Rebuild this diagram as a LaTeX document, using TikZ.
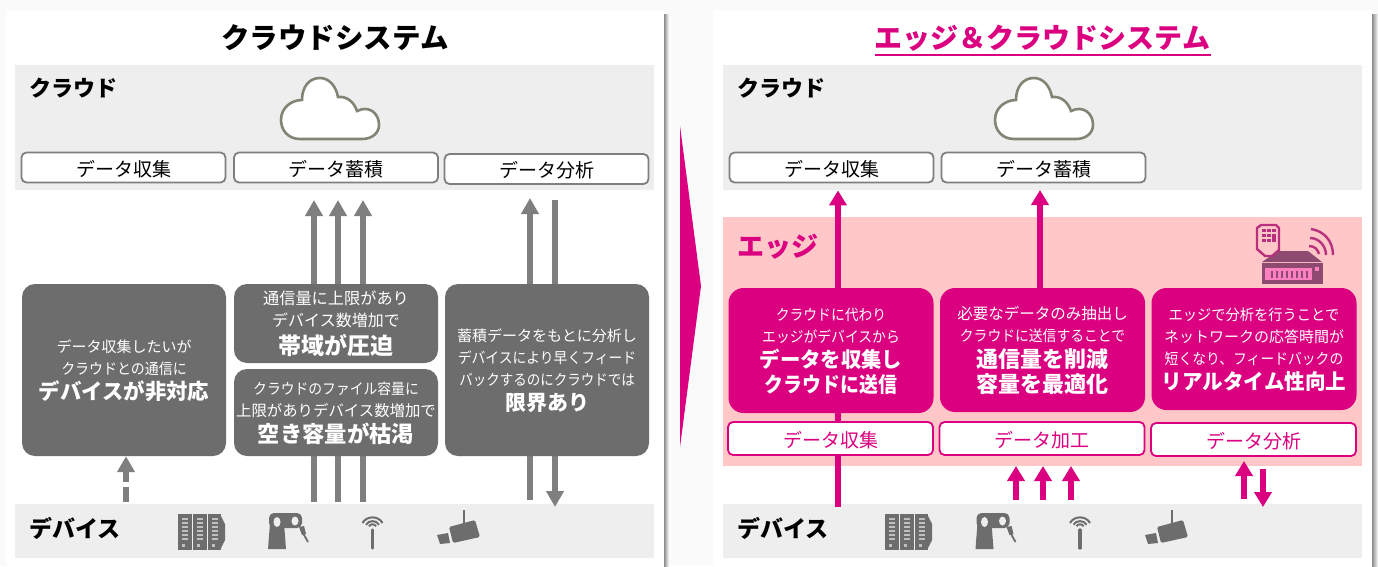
\documentclass[tikz,border=0pt]{standalone}
\usepackage{fontspec}
\setmainfont{Noto Sans CJK JP}
\usetikzlibrary{arrows.meta,calc}
\definecolor{mag}{HTML}{DA0080}
\definecolor{dk}{HTML}{6D6D6D}
\definecolor{arr}{HTML}{7F7F7F}
\definecolor{band}{HTML}{EEEEEE}
\definecolor{edgeb}{HTML}{FFC7C7}
\newcommand\bodyblock[1]{\vbox{\offinterlineskip\vskip 4pt\halign{\hfil##\hfil\cr #1\crcr}}}
% \rl[stretch]{size}{text}  regular line; \bl[stretch]{size}{text} bold line
\newcommand\rl[3][1]{\fontsize{#2}{#2}\selectfont\addfontfeature{FakeStretch=#1}\vrule height 15pt depth 7pt width 0pt #3}
\newcommand\bl[3][1]{\fontsize{#2}{#2}\selectfont\bfseries\addfontfeature{FakeStretch=#1}\vrule height 18pt depth 7pt width 0pt #3}
\pgfdeclarelayer{bg}\pgfdeclarelayer{mid}\pgfsetlayers{bg,mid,main}
\tikzset{
  x=1pt,y=-1pt,
  bandbox/.style={fill=band,draw=none,minimum height=#1,inner sep=0pt,anchor=north west},
  labeltxt/.style={font=\fontsize{22}{26}\selectfont\bfseries,text=black,anchor=west,inner sep=0pt},
  titletxt/.style={font=\fontsize{28.5}{34}\selectfont\bfseries,inner sep=0pt},
  btn/.style={draw=#1,fill=white,rounded corners=5pt,line width=1.8pt,minimum width=204pt,minimum height=30pt,inner sep=0pt,text height=18.5pt,text depth=1pt,font=\fontsize{19}{22}\selectfont},
  dkbox/.style={fill=dk,rounded corners=13pt,text=white,inner sep=0pt,minimum width=204pt},
  mgbox/.style={fill=mag,rounded corners=15pt,text=white,inner sep=0pt,minimum width=205pt},
  garrow/.style={draw=arr,line width=5.2pt,-{Triangle[width=17pt,length=16pt]}},
  gline/.style={draw=arr,line width=5.2pt},
  marrow/.style={draw=mag,line width=6pt,-{Triangle[width=17pt,length=15pt]}},
  cloudshape/.pic={
    \draw[draw=black!45!band!90!olive,fill=white,line width=2.6pt]
      (19,61) .. controls (7,61) and (0,52) .. (0,42) .. controls (0,30) and (10,22) .. (21,22)
      .. controls (21,9) and (28,0) .. (39,0) .. controls (48,0) and (55,8) .. (57,19)
      .. controls (66,18) and (73,24) .. (76,33) .. controls (88,27) and (98,35) .. (98,47)
      .. controls (98,55) and (91,61) .. (81,61) -- cycle;
  },
  servericon/.pic={
    \fill[dk] (0,0) rectangle (13.5,36);
    \fill[dk] (15,0) rectangle (28.5,36);
    \fill[dk] (30,0) rectangle (43,36);
    \fill[dk] (43,2) -- (47,10) -- (47,26) -- (43,34) -- cycle;
    \foreach \q in {3.5,18.5,33.5}{
      \foreach \r in {4,8,12,16,20,24}{\fill[black!25] (\q,\r) rectangle +(6.5,2.4);}
      \fill[black!25] (\q,30) rectangle +(3,2.5);
    }
  },
  roboticon/.pic={
    \fill[dk] (0,36) -- (18,36) -- (16,10) -- (2,10) -- cycle;
    \fill[dk,rounded corners=5pt] (1,0) rectangle (34,15);
    \fill[band] (9,9) ellipse (3.5pt and 5pt);
    \fill[band] (27,8) ellipse (3.5pt and 4.5pt);
    \fill[dk] (31,14) -- (36,13) -- (38,21) -- (34,22) -- cycle;
    \draw[dk,line width=1.8pt] (35,20) -- (40,29);
  },
  antennaicon/.pic={
    \draw[dk,line width=3.4pt,line cap=round] (0,15) -- (0,33);
    \foreach \r in {3.5,6.5,10}{
      \draw[dk,line width=2pt] (-\r,{13-0.5*\r}) .. controls ({-0.6*\r},{13-1.25*\r}) and ({0.6*\r},{13-1.25*\r}) .. (\r,{13-0.5*\r});
    }
  },
  cameraicon/.pic={
    \fill[dk,rounded corners=1.5pt] (12,17) -- (38,10) -- (43,27) -- (16,33) -- cycle;
    \fill[dk] (0,25) -- (11,23) -- (13,33) -- (3,34) -- cycle;
    \draw[dk,line width=1.2pt] (27,0) -- (27,13);
  },
}
\begin{document}
\begin{tikzpicture}
\useasboundingbox (0,0) rectangle (1378,566);
\begin{pgfonlayer}{bg}
\fill[white!98!black] (0,0) rectangle (1378,566);
% panels
\fill[white] (6,10) rectangle (664,566);
\fill[white] (713,10) rectangle (1372,566);
\shade[left color=black!45,right color=white] (664,14) rectangle (669,566);
\shade[left color=black!45,right color=white] (1372,14) rectangle (1378,566);
% bands
\node[bandbox=125pt,minimum width=639pt] (cloudL) at (15,65) {};
\node[bandbox=54pt,minimum width=639pt] (devL) at (15,504) {};
\node[bandbox=125pt,minimum width=639pt] (cloudR) at (723,65) {};
\node[bandbox=54pt,minimum width=639pt] (devR) at (723,504) {};
\node[bandbox=249pt,minimum width=639pt,fill=edgeb] (edgeR) at (723,217) {};
\end{pgfonlayer}

% central triangle
\fill[mag] (680,126) -- (701,286) -- (680,447) -- cycle;

% titles
\node[titletxt] (t1) at (335,38) {クラウドシステム};
\node[titletxt,text=mag,font=\fontsize{28}{34}\selectfont\bfseries] (t2) at (1042.5,38) {エッジ＆クラウドシステム};
\draw[mag,line width=1.8pt] ($(t2.center)+(-168,17)$) -- ($(t2.center)+(168,17)$);

% band labels
\node[labeltxt] (lc1) at (29,88) {クラウド};
\node[labeltxt] (lc2) at (737,88) {クラウド};
\node[labeltxt,font=\fontsize{23}{26}\selectfont\bfseries] (ld1) at (29,528) {デバイス};
\node[labeltxt,font=\fontsize{23}{26}\selectfont\bfseries] (ld2) at (737,528) {デバイス};
\node[labeltxt,font=\fontsize{27}{30}\selectfont\bfseries,text=mag] (le) at (737,247) {エッジ};

% clouds
\pic at (281,78) {cloudshape};
\pic at (995,78) {cloudshape};

% cloud buttons
\node[btn=arr] (b1) at (123.5,167.5) {データ収集};
\node[btn=arr] (b2) at (336,167.5) {データ蓄積};
\node[btn=arr] (b3) at (546.5,169) {データ分析};
\node[btn=arr] (b4) at (831.5,167.5) {データ収集};
\node[btn=arr] (b5) at (1043.5,167.5) {データ蓄積};

% left dark boxes
\node[dkbox,minimum height=172pt] (d1) at (124,370) {\bodyblock{\rl{15}{データ収集したいが}\cr\rl[.93]{15}{クラウドとの通信に}\cr\bl{21.4}{デバイスが非対応}\cr}};
\node[dkbox,minimum height=79pt] (d2) at (336,323.5) {\bodyblock{\rl{16.2}{通信量に上限があり}\cr\rl{16}{デバイス数増加で}\cr\bl{23}{帯域が圧迫}\cr}};
\node[dkbox,minimum height=87pt] (d3) at (336,412.5) {\bodyblock{\rl[.92]{15}{クラウドのファイル容量に}\cr\rl{15.4}{上限がありデバイス数増加で}\cr\bl{22.3}{空き容量が枯渇}\cr}};
\node[dkbox,minimum height=172pt] (d4) at (547,370) {\bodyblock{\rl{15}{蓄積データをもとに分析し}\cr\rl[.92]{15}{デバイスにより早くフィード}\cr\rl[.9]{15}{バックするのにクラウドでは}\cr\bl{21}{限界あり}\cr}};

% right magenta boxes
\node[mgbox,minimum height=125pt] (m1) at (831,350.5) {\bodyblock{\rl[.92]{15}{クラウドに代わり}\cr\rl[.92]{15}{エッジがデバイスから}\cr\bl[.97]{21}{データを収集し}\cr\bl[.9]{21}{クラウドに送信}\cr}};
\node[mgbox,minimum height=124pt] (m2) at (1042.5,350) {\bodyblock{\rl{15.5}{必要なデータのみ抽出し}\cr\rl[.92]{15}{クラウドに送信することで}\cr\bl{22}{通信量を削減}\cr\bl{22}{容量を最適化}\cr}};
\node[mgbox,minimum height=122pt] (m3) at (1254,349) {\bodyblock{\rl[.95]{15}{エッジで分析を行うことで}\cr\rl{15}{ネットワークの応答時間が}\cr\rl[.92]{15}{短くなり、フィードバックの}\cr\bl[.98]{21}{リアルタイム性向上}\cr}};

% edge buttons
\node[btn=mag,text=mag,minimum width=205pt,minimum height=33pt] (e1) at (830.5,438.5) {データ収集};
\node[btn=mag,text=mag,minimum width=205pt,minimum height=33pt] (e2) at (1042,438.5) {データ加工};
\node[btn=mag,text=mag,minimum width=205pt,minimum height=33pt] (e3) at (1253.5,439.5) {データ分析};

% coordinates for free ends
\coordinate (u1) at (314,200); \coordinate (u2) at (338,200); \coordinate (u3) at (363,200);
\coordinate (l1) at (314,502); \coordinate (l2) at (338,502); \coordinate (l3) at (363,502);
\coordinate (ua) at (530,198); \coordinate (da) at (555,200);
\coordinate (la) at (530,500); \coordinate (lb) at (555,507);
\coordinate (dsh) at (126,502);
\coordinate (mA) at (838,507); \coordinate (mB) at (1040,190);
\coordinate (p1) at (1016,500); \coordinate (p2) at (1043,500); \coordinate (p3) at (1071,500);
\coordinate (pt1) at (1016,466); \coordinate (pt2) at (1043,466); \coordinate (pt3) at (1071,466);
\coordinate (q1) at (1244,499); \coordinate (q1t) at (1244,461);
\coordinate (q2) at (1263,469); \coordinate (q2t) at (1263,507);

\begin{pgfonlayer}{mid}
\draw[garrow] (d2.north -| u1) -- (u1);
\draw[garrow] (d2.north -| u2) -- (u2);
\draw[garrow] (d2.north -| u3) -- (u3);
\draw[gline] (l1) -- (d3.south -| l1);
\draw[gline] (l2) -- (d3.south -| l2);
\draw[gline] (l3) -- (d3.south -| l3);
\draw[garrow] (d4.north -| ua) -- (ua);
\draw[gline] (da) -- (d4.north -| da);
\draw[gline] (la) -- (d4.south -| la);
\draw[garrow] (d4.south -| lb) -- (lb);
\draw[garrow,dash pattern=on 15pt off 5pt on 40pt off 0pt] (dsh) -- (d1.south -| dsh);
\draw[marrow] (mA) -- (cloudR.south -| mA);
\draw[marrow] (m2.north -| mB) -- (mB);
\end{pgfonlayer}
\draw[marrow] (p1) -- (pt1);
\draw[marrow] (p2) -- (pt2);
\draw[marrow] (p3) -- (pt3);
\draw[marrow] (q1) -- (q1t);
\draw[marrow] (q2) -- (q2t);

% device icons
\pic at (178,514) {servericon};
\pic at (268,513) {roboticon};
\pic at (372.5,515) {antennaicon};
\pic at (437,510) {cameraicon};
\pic at (885,514) {servericon};
\pic at (975.5,513) {roboticon};
\pic at (1080,515) {antennaicon};
\pic at (1145,510) {cameraicon};

% edge device icon
\definecolor{rtr}{HTML}{8F4A72}
\definecolor{rts}{HTML}{FF80C0}
\definecolor{rtw}{HTML}{B8307E}
\fill[rtr] (1262,262) -- (1278,251) -- (1308,251) -- (1322,262) -- cycle;
\fill[rtr] (1262,263) rectangle (1323,284);
\fill[rts] (1265,268) rectangle (1312,280);
\fill[rts] (1315,267) rectangle (1319,271);
\foreach \v in {1271,1276,1281,1286,1291,1296,1301,1306}{\fill[rtr] (\v,271) rectangle +(2.2,7);}
\draw[rtw,line width=2.4pt] (1261,225) -- (1276,225) -- (1279,228) -- (1279,250) -- (1272,256) -- (1265,256) -- (1257,249) -- (1257,228) -- cycle;
\foreach \v/\w in {1262/229,1267/229,1272/229,1262/234,1267/234,1272/234,1262/239,1267/239}{\fill[rtw] (\v,\w) rectangle +(3.6,2.8);}
\fill[rtw] (1272,237) rectangle +(3.6,5);
\draw[rtw,line width=2.4pt] (1309,246) .. controls (1315,246) and (1318,250) .. (1319,254);
\draw[rtw,line width=2.4pt] (1310,238) .. controls (1319,238) and (1326,246) .. (1326,255);
\draw[rtw,line width=2.4pt] (1311,229) .. controls (1324,231) and (1333,241) .. (1333,255);
\end{tikzpicture}
\end{document}
